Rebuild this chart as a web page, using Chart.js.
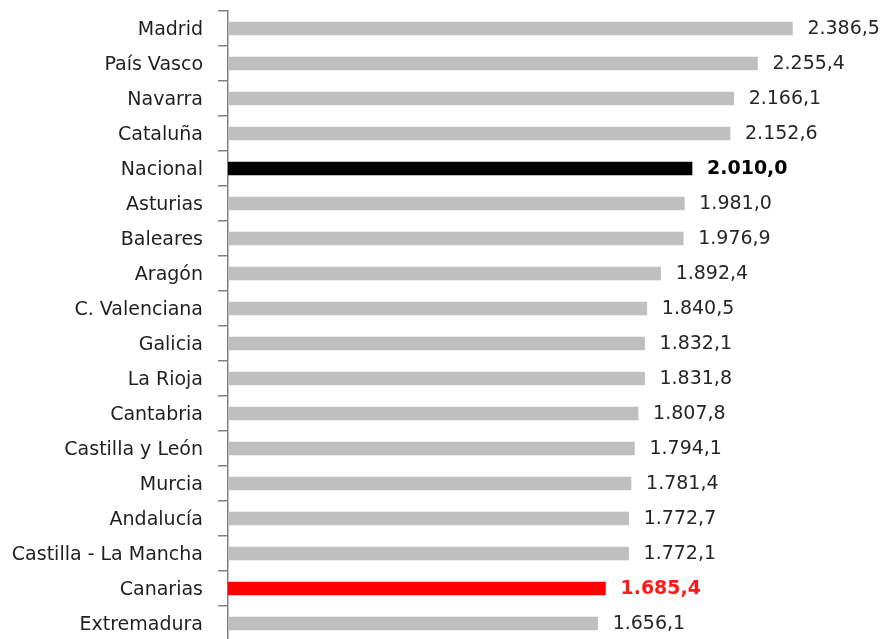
<!DOCTYPE html>
<html>
<head>
<meta charset="utf-8">
<script src="https://cdn.jsdelivr.net/npm/chart.js@4"></script>
<style>
  html, body { margin: 0; padding: 0; background: #fff; overflow: hidden; }
</style>
</head>
<body>
<canvas id="barChart" width="887" height="660"></canvas>
<script>
// Data Setup
const regions = ['Madrid', 'País Vasco', 'Navarra', 'Cataluña', 'Nacional', 'Asturias', 'Baleares',
  'Aragón', 'C. Valenciana', 'Galicia', 'La Rioja', 'Cantabria', 'Castilla y León', 'Murcia',
  'Andalucía', 'Castilla - La Mancha', 'Canarias', 'Extremadura'];
const values = [2386.5, 2255.4, 2166.1, 2152.6, 2010.0, 1981.0, 1976.9, 1892.4, 1840.5, 1832.1,
  1831.8, 1807.8, 1794.1, 1781.4, 1772.7, 1772.1, 1685.4, 1656.1];
const highlight = { 'Nacional': '#000000', 'Canarias': '#ff0000' };

const barColors = regions.map(r => highlight[r] || '#bfbfbf');

// 1.234,5 style numbers
function fmt(v) {
  const parts = v.toFixed(1).split('.');
  return parts[0].replace(/\B(?=(\d{3})+(?!\d))/g, '.') + ',' + parts[1];
}

// value labels next to each bar
const valueLabels = {
  id: 'valueLabels',
  afterDatasetsDraw(chart) {
    const ctx = chart.ctx;
    const meta = chart.getDatasetMeta(0);
    ctx.save();
    ctx.textBaseline = 'middle';
    ctx.textAlign = 'left';
    meta.data.forEach((bar, i) => {
      const r = regions[i];
      const bold = r === 'Nacional' || r === 'Canarias';
      ctx.font = (bold ? 'bold ' : '') + '19px "DejaVu Sans"';
      ctx.fillStyle = r === 'Canarias' ? '#ff1a1a' : (r === 'Nacional' ? '#000' : '#262626');
      ctx.fillText(fmt(values[i]), bar.x + 15, bar.y + 1);
    });
    ctx.restore();
  }
};

const chart = new Chart(document.getElementById('barChart').getContext('2d'), {
  type: 'bar',
  data: {
    labels: regions,
    datasets: [{
      data: values,
      backgroundColor: barColors,
      barThickness: 13
    }]
  },
  options: {
    indexAxis: 'y',
    responsive: false,
    animation: false,
    layout: { padding: { top: 11, bottom: 19, left: 0, right: 11 } },
    plugins: {
      legend: { display: false },
      tooltip: { enabled: false }
    },
    scales: {
      x: { display: false, min: 270, max: 2700 },
      y: {
        afterFit(scale) {
          scale.width = 228;
          scale.paddingTop = 0;
          scale.paddingBottom = 0;
        },
        border: { display: true, color: '#808080', width: 1.5 },
        grid: { drawOnChartArea: false, drawTicks: true, tickLength: 10, color: '#808080', lineWidth: 1.5, offset: true },
        ticks: {
          autoSkip: false,
          padding: 15,
          labelOffset: 2,
          color: '#1f1f1f',
          font: { family: 'DejaVu Sans', size: 19 }
        }
      }
    }
  },
  plugins: [valueLabels]
});
</script>
</body>
</html>
